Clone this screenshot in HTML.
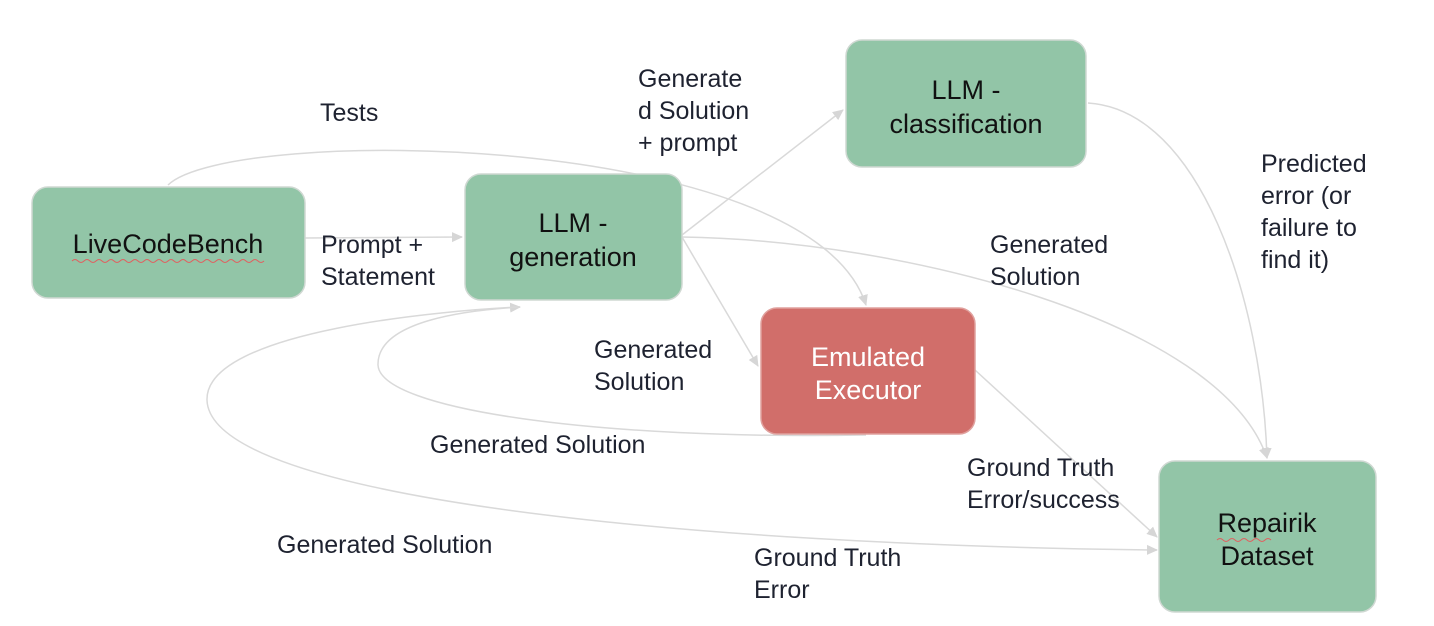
<!DOCTYPE html>
<html><head><meta charset="utf-8"><style>
body{margin:0;background:#fff;}
svg{display:block;font-family:"Liberation Sans",sans-serif;}
.l{font-size:25px;fill:#1e2230;}
.b{font-size:27px;fill:#111;}
</style></head><body>
<svg width="1434" height="626" viewBox="0 0 1434 626">
<defs><marker id="a" markerWidth="12" markerHeight="12" refX="10" refY="6" orient="auto" markerUnits="userSpaceOnUse"><path d="M0,1 L11,6 L0,11 z" fill="#d6d6d6"/></marker></defs>
<g fill="none" stroke="#d9d9d9" stroke-width="1.5" marker-end="url(#a)">
<path d="M168,185 C230,125 810,130 866,305"/>
<path d="M305,238 L462,237"/>
<path d="M682,235 L843,110"/>
<path d="M682,237 L758,366"/>
<path d="M682,237 C900,240 1220,320 1267,458"/>
<path d="M1088,103 C1200,110 1262,300 1267,458"/>
<path d="M975,370 L1157,537"/>
<path d="M866,435 C600,440 380,410 378,365 C377,320 470,310 520,307"/>
<path d="M520,307 C450,310 205,330 207,400 C210,500 700,545 1157,550"/>
</g>
<g stroke="#cfd8d2" stroke-width="1.5">
<rect x="32" y="187" width="273" height="111" rx="16" fill="#92c5a7"/>
<rect x="465" y="174" width="217" height="126" rx="16" fill="#92c5a7"/>
<rect x="846" y="40" width="240" height="127" rx="16" fill="#92c5a7"/>
<rect x="761" y="308" width="214" height="126" rx="16" fill="#d16e6a" stroke="#e0a09d"/>
<rect x="1159" y="461" width="217" height="151" rx="16" fill="#92c5a7"/>
</g>
<g class="b" text-anchor="middle">
<text x="168" y="253">LiveCodeBench</text>
<text x="573" y="232">LLM -</text><text x="573" y="266">generation</text>
<text x="966" y="99">LLM -</text><text x="966" y="133">classification</text>
<text x="868" y="366" fill="#fff">Emulated</text><text x="868" y="399" fill="#fff">Executor</text>
<text x="1267" y="532">Repairik</text><text x="1267" y="565">Dataset</text>
</g>
<path d="M72,261 q3,-3 6,0 t6,0 t6,0 t6,0 t6,0 t6,0 t6,0 t6,0 t6,0 t6,0 t6,0 t6,0 t6,0 t6,0 t6,0 t6,0 t6,0 t6,0 t6,0 t6,0 t6,0 t6,0 t6,0 t6,0 t6,0 t6,0 t6,0 t6,0 t6,0 t6,0 t6,0 t6,0" fill="none" stroke="#e06060" stroke-width="1"/>
<path d="M1217,540 q3,-3 6,0 t6,0 t6,0 t6,0 t6,0 t6,0 t6,0 t6,0 t6,0" fill="none" stroke="#e06060" stroke-width="1"/>
<g class="l">
<text x="320" y="121">Tests</text>
<text x="638" y="87">Generate</text><text x="638" y="119">d Solution</text><text x="638" y="151">+ prompt</text>
<text x="321" y="253">Prompt +</text><text x="321" y="285">Statement</text>
<text x="990" y="253">Generated</text><text x="990" y="285">Solution</text>
<text x="1261" y="172">Predicted</text><text x="1261" y="204">error (or</text><text x="1261" y="236">failure to</text><text x="1261" y="268">find it)</text>
<text x="594" y="358">Generated</text><text x="594" y="390">Solution</text>
<text x="430" y="453">Generated Solution</text>
<text x="967" y="476">Ground Truth</text><text x="967" y="508">Error/success</text>
<text x="277" y="553">Generated Solution</text>
<text x="754" y="566">Ground Truth</text><text x="754" y="598">Error</text>
</g>
</svg>
</body></html>
